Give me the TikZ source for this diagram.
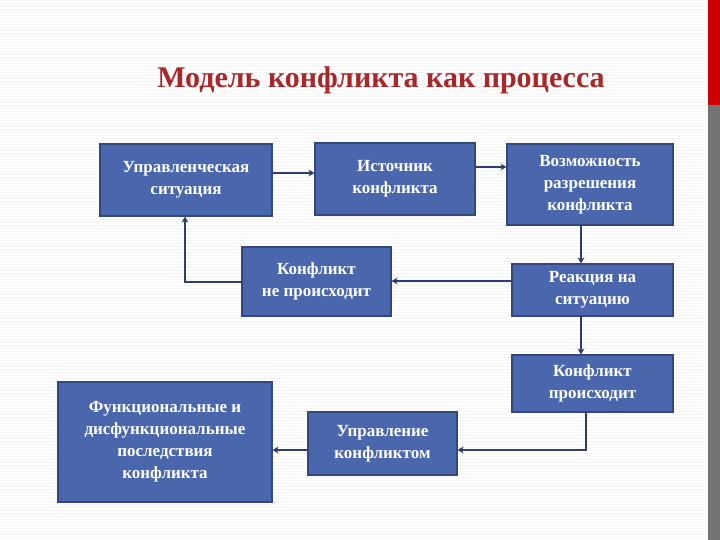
\documentclass[tikz,border=0pt]{standalone}
\usepackage{fontspec}
\setmainfont{Liberation Serif}
\usetikzlibrary{arrows.meta}
\definecolor{boxblue}{HTML}{4A66AC}
\definecolor{boxedge}{HTML}{34477A}
\definecolor{arr}{HTML}{2E3E6A}
\definecolor{ttl}{HTML}{A8282A}
\tikzset{
  bx/.style={draw=boxedge, line width=1.2pt, fill=boxblue, text=white, font=\fontsize{17}{22}\selectfont\bfseries, align=center, inner sep=0pt},
  con/.style={draw=arr, line width=2.2pt, -{Stealth[length=6pt,width=7pt]}}
}
\begin{document}
\begin{tikzpicture}[x=1pt,y=-1pt]
\useasboundingbox (0,0) rectangle (720,540);
\fill[white] (0,0) rectangle (720,540);
\foreach \yy in {0,3,...,540} \draw[black!4, line width=0.4pt] (0,\yy) -- (706,\yy);
\fill[red!80!black] (708,0) rectangle (720,105);
\fill[black!55] (708,105) rectangle (720,540);
\node (title) at (381,80) {\fontsize{30}{34}\selectfont\bfseries\color{ttl}Модель конфликта как процесса};
\node[bx, minimum width=172, minimum height=72] (A) at (186,180) {Управленческая\\ситуация};
\node[bx, minimum width=160, minimum height=72] (B) at (395,179) {Источник\\конфликта};
\node[bx, minimum width=166, minimum height=81] (C) at (590,184.5) {Возможность\\разрешения\\конфликта};
\node[bx, minimum width=149, minimum height=69] (D) at (316.5,281.5) {Конфликт\\не происходит};
\node[bx, minimum width=161, minimum height=52] (E) at (592.5,290) {Реакция на\\ситуацию};
\node[bx, minimum width=161, minimum height=57] (F) at (592.5,383.5) {Конфликт\\происходит};
\node[bx, minimum width=149, minimum height=63] (G) at (382.5,443.5) {Управление\\конфликтом};
\node[bx, minimum width=214, minimum height=120] (H) at (165,442) {Функциональные и\\дисфункциональные\\последствия\\конфликта};
\draw[con] (A.east|-0,173) -- (B.west|-0,173);
\draw[con] (B.east|-0,167) -- (C.west|-0,167);
\draw[con] (581,225) -- (E.north-|581,0);
\draw[con] (E.west|-0,281) -- (D.east|-0,281);
\draw[con] (D.west|-0,282) -- (185,282) -- (A.south-|185,0);
\draw[con] (581,316) -- (F.north-|581,0);
\draw[con] (586,412) -- (586,450) -- (G.east|-0,450);
\draw[con] (G.west|-0,450) -- (H.east|-0,450);
\end{tikzpicture}
\end{document}
